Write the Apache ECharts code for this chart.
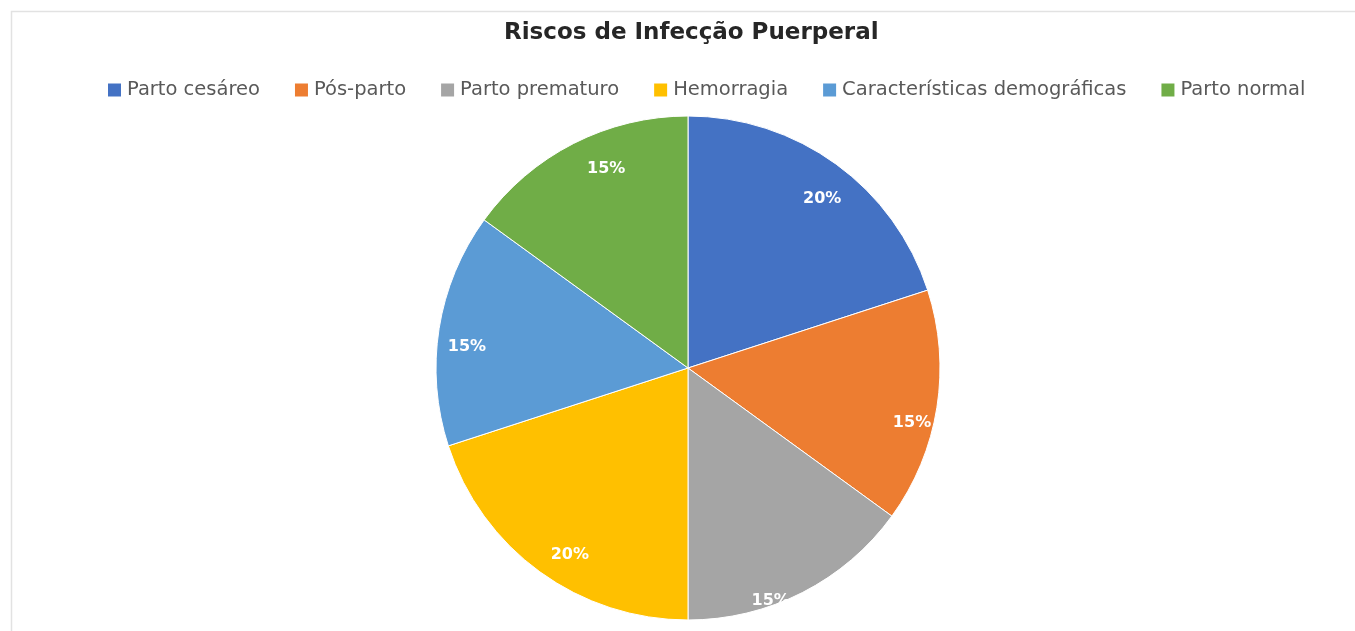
<!DOCTYPE html>
<html>
<head>
<meta charset="utf-8">
<script src="https://cdn.jsdelivr.net/npm/echarts@6/dist/echarts.min.js"></script>
<style>
html,body{margin:0;padding:0;background:#fff;}
#chart{width:1355px;height:631px;}
</style>
</head>
<body>
<div id="chart"></div>
<script>
const titleText = 'Riscos de Infecção Puerperal';
const categories = ['Parto cesáreo', 'Pós-parto', 'Parto prematuro', 'Hemorragia', 'Características demográficas', 'Parto normal'];
const values = [20, 15, 15, 20, 15, 15];
const colors = ['#4472C4', '#ED7D31', '#A5A5A5', '#FFC000', '#5B9BD5', '#70AD47'];
const labelOffsets = [[5, 9], [7, 20], [-17, 37], [11, 9], [-4, 13], [18, -3]];

const R = 252;
const center = [688, 368];

const pieData = categories.map((c, i) => ({ name: c, value: values[i], itemStyle: { color: colors[i] } }));
const labelData = categories.map((c, i) => ({
  name: c, value: values[i],
  itemStyle: { color: 'rgba(0,0,0,0)' },
  label: { offset: labelOffsets[i] }
}));

const chart = echarts.init(document.getElementById('chart'));
chart.setOption({
  animation: false,
  color: colors,
  graphic: [{
    type: 'rect', left: 9, top: 9, silent: true,
    shape: { width: 1345, height: 640 },
    style: { fill: 'none', stroke: '#e2e2e2', lineWidth: 1.5 }
  }],
  title: {
    text: titleText, left: 499, top: 17,
    textStyle: { fontFamily: 'DejaVu Sans', fontWeight: 'bold', fontSize: 23, color: '#262626' }
  },
  legend: {
    data: categories, top: 75, left: 101,
    itemWidth: 15, itemHeight: 15, itemGap: 33,
    icon: 'rect',
    textStyle: { fontFamily: 'DejaVu Sans', fontSize: 19.5, color: '#595959' }
  },
  series: [{
    type: 'pie', center: center, radius: R, startAngle: 90, clockwise: true,
    silent: true, label: { show: false }, labelLine: { show: false },
    itemStyle: { borderColor: '#ffffff', borderWidth: 1 },
    data: pieData
  }, {
    type: 'pie', center: center, radius: [R * 0.72, R], startAngle: 90, clockwise: true,
    silent: true, avoidLabelOverlap: false,
    label: { show: true, position: 'inside', formatter: '{d}%', color: '#ffffff', fontFamily: 'DejaVu Sans', fontWeight: 'bold', fontSize: 16 },
    labelLine: { show: false },
    data: labelData
  }]
});
</script>
</body>
</html>
